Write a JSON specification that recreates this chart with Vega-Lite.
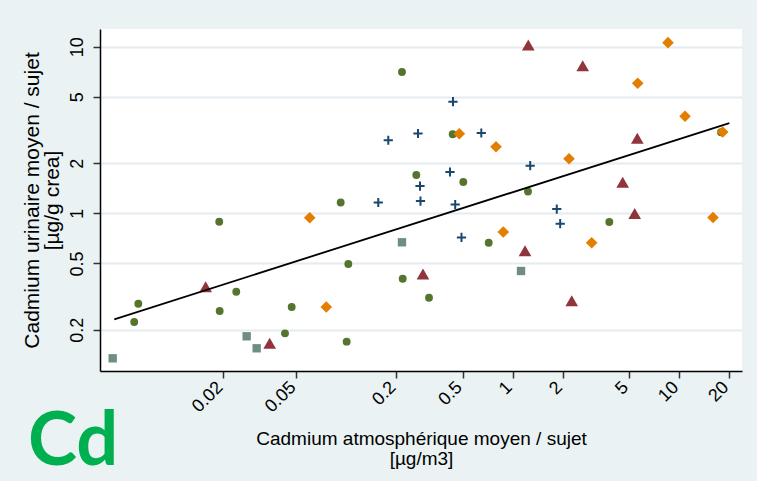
{
  "$schema": "https://vega.github.io/schema/vega-lite/v6.json",
  "width": 642,
  "height": 342,
  "autosize": {"type": "none"},
  "padding": {"left": 100, "top": 29, "right": 15, "bottom": 110},
  "background": "#eaf2f3",
  "config": {
    "view": {"fill": "white", "stroke": null},
    "font": "Liberation Sans"
  },
  "title": {
    "text": "Cd",
    "orient": "bottom",
    "anchor": "start",
    "frame": "bounds",
    "font": "Lato",
    "fontWeight": "bold",
    "fontSize": 74,
    "color": "#00b050",
    "dy": -66,
    "dx": 7
  },
  "datasets": {
    "pts": [
      {"grp": "s1", "x": 0.2159, "y": 7.05},
      {"grp": "s1", "x": 0.2633, "y": 1.698},
      {"grp": "s1", "x": 0.0924, "y": 1.161},
      {"grp": "s1", "x": 0.0172, "y": 0.89},
      {"grp": "s1", "x": 0.1027, "y": 0.496},
      {"grp": "s1", "x": 0.2181, "y": 0.405},
      {"grp": "s1", "x": 0.02177, "y": 0.3384},
      {"grp": "s1", "x": 0.00561, "y": 0.2867},
      {"grp": "s1", "x": 0.0173, "y": 0.2593},
      {"grp": "s1", "x": 0.0469, "y": 0.274},
      {"grp": "s1", "x": 0.0053, "y": 0.2226},
      {"grp": "s1", "x": 0.04274, "y": 0.1904},
      {"grp": "s1", "x": 0.1004, "y": 0.1696},
      {"grp": "s1", "x": 0.4357, "y": 2.98},
      {"grp": "s1", "x": 0.5046, "y": 1.541},
      {"grp": "s1", "x": 1.236, "y": 1.352},
      {"grp": "s1", "x": 17.89, "y": 3.063},
      {"grp": "s1", "x": 0.7173, "y": 0.666},
      {"grp": "s1", "x": 3.81, "y": 0.887},
      {"grp": "s1", "x": 0.3139, "y": 0.3113},
      {"grp": "s2", "x": 0.1786, "y": 2.744},
      {"grp": "s2", "x": 0.2695, "y": 3.013},
      {"grp": "s2", "x": 0.2771, "y": 1.458},
      {"grp": "s2", "x": 0.279, "y": 1.185},
      {"grp": "s2", "x": 0.1555, "y": 1.161},
      {"grp": "s2", "x": 0.4375, "y": 4.676},
      {"grp": "s2", "x": 0.6474, "y": 3.034},
      {"grp": "s2", "x": 1.274, "y": 1.931},
      {"grp": "s2", "x": 0.4197, "y": 1.77},
      {"grp": "s2", "x": 0.4511, "y": 1.129},
      {"grp": "s2", "x": 1.841, "y": 1.061},
      {"grp": "s2", "x": 1.93, "y": 0.866},
      {"grp": "s2", "x": 0.4921, "y": 0.716},
      {"grp": "s3", "x": 8.588, "y": 10.57},
      {"grp": "s3", "x": 5.645, "y": 6.03},
      {"grp": "s3", "x": 10.87, "y": 3.821},
      {"grp": "s3", "x": 0.4775, "y": 3.005},
      {"grp": "s3", "x": 18.31, "y": 3.076},
      {"grp": "s3", "x": 0.7937, "y": 2.51},
      {"grp": "s3", "x": 2.181, "y": 2.127},
      {"grp": "s3", "x": 0.0602, "y": 0.941},
      {"grp": "s3", "x": 0.0757, "y": 0.274},
      {"grp": "s3", "x": 0.878, "y": 0.772},
      {"grp": "s3", "x": 16.01, "y": 0.944},
      {"grp": "s3", "x": 2.985, "y": 0.666},
      {"grp": "s4", "x": 1.241, "y": 10.24},
      {"grp": "s4", "x": 2.636, "y": 7.69},
      {"grp": "s4", "x": 5.613, "y": 2.82},
      {"grp": "s4", "x": 4.586, "y": 1.535},
      {"grp": "s4", "x": 0.2888, "y": 0.432},
      {"grp": "s4", "x": 0.01425, "y": 0.3625},
      {"grp": "s4", "x": 0.03457, "y": 0.1658},
      {"grp": "s4", "x": 5.415, "y": 0.997},
      {"grp": "s4", "x": 1.186, "y": 0.596},
      {"grp": "s4", "x": 2.264, "y": 0.2987},
      {"grp": "s5", "x": 0.2159, "y": 0.67},
      {"grp": "s5", "x": 0.02514, "y": 0.1827},
      {"grp": "s5", "x": 0.02888, "y": 0.1548},
      {"grp": "s5", "x": 0.003933, "y": 0.1348},
      {"grp": "s5", "x": 1.122, "y": 0.4505}
    ],
    "fit": [
      {"x": 0.00402, "y": 0.231},
      {"x": 20.07, "y": 3.48}
    ]
  },
  "encoding": {
    "x": {
      "field": "x",
      "type": "quantitative",
      "scale": {"type": "log", "domain": [0.0033, 23.92], "nice": false},
      "axis": {
        "title": ["Cadmium atmosphérique moyen / sujet", "[µg/m3]"],
        "titleFont": "Liberation Sans",
        "titleFontSize": 19,
        "titleFontWeight": "normal",
        "titleColor": "#000000",
        "titleLineHeight": 20,
        "titlePadding": 14,
        "values": [0.0182, 0.05, 0.2, 0.5, 1, 2, 5, 10, 20],
        "labelExpr": "datum.value < 0.03 ? '0.02' : format(datum.value, '~g')",
        "labelAngle": -45,
        "labelAlign": "right",
        "labelBaseline": "alphabetic",
        "labelPadding": 10,
        "labelFontSize": 18,
        "labelColor": "#000000",
        "labelFlush": false,
        "labelOverlap": false,
        "tickSize": 7,
        "tickColor": "#333333",
        "tickWidth": 1.5,
        "domainColor": "#000000",
        "domainWidth": 1.5,
        "grid": false
      }
    },
    "y": {
      "field": "y",
      "type": "quantitative",
      "scale": {"type": "log", "domain": [0.1131, 12.77], "nice": false},
      "axis": {
        "title": ["Cadmium urinaire moyen / sujet", "[µg/g crea]"],
        "titleFont": "Liberation Sans",
        "titleFontSize": 21,
        "titleFontWeight": "normal",
        "titleColor": "#000000",
        "titleLineHeight": 20,
        "titlePadding": 6,
        "values": [0.2, 0.5, 1, 2, 5, 10],
        "format": "~g",
        "labelAngle": -90,
        "labelAlign": "center",
        "labelBaseline": "alphabetic",
        "labelPadding": 11,
        "labelFontSize": 18,
        "labelColor": "#000000",
        "labelFlush": false,
        "labelOverlap": false,
        "tickSize": 7,
        "tickColor": "#333333",
        "tickWidth": 1.5,
        "domainColor": "#000000",
        "domainWidth": 1.5,
        "grid": true,
        "gridColor": "#e4ecef",
        "gridWidth": 2
      }
    }
  },
  "layer": [
    {
      "data": {"name": "pts"},
      "transform": [{"filter": "datum.grp != 's2'"}],
      "mark": {"type": "point", "filled": true, "opacity": 1},
      "encoding": {
        "color": {
          "field": "grp",
          "type": "nominal",
          "scale": {"domain": ["s1", "s3", "s4", "s5"], "range": ["#55752f", "#e37e00", "#90353b", "#6e8e84"]},
          "legend": null
        },
        "shape": {
          "field": "grp",
          "type": "nominal",
          "scale": {"domain": ["s1", "s3", "s4", "s5"], "range": ["circle", "diamond", "triangle-up", "square"]},
          "legend": null
        },
        "size": {
          "field": "grp",
          "type": "nominal",
          "scale": {"type": "ordinal", "domain": ["s1", "s3", "s4", "s5"], "range": [62, 135, 160, 70]},
          "legend": null
        }
      }
    },
    {
      "data": {"name": "pts"},
      "transform": [{"filter": "datum.grp == 's2'"}],
      "mark": {
        "type": "point",
        "shape": "M-1,0L1,0M0,-1L0,1",
        "filled": false,
        "stroke": "#1a476f",
        "strokeWidth": 2,
        "size": 85,
        "opacity": 1
      }
    },
    {
      "data": {"name": "fit"},
      "mark": {"type": "line", "color": "#000000", "strokeWidth": 1.8},
      "encoding": {}
    }
  ]
}
